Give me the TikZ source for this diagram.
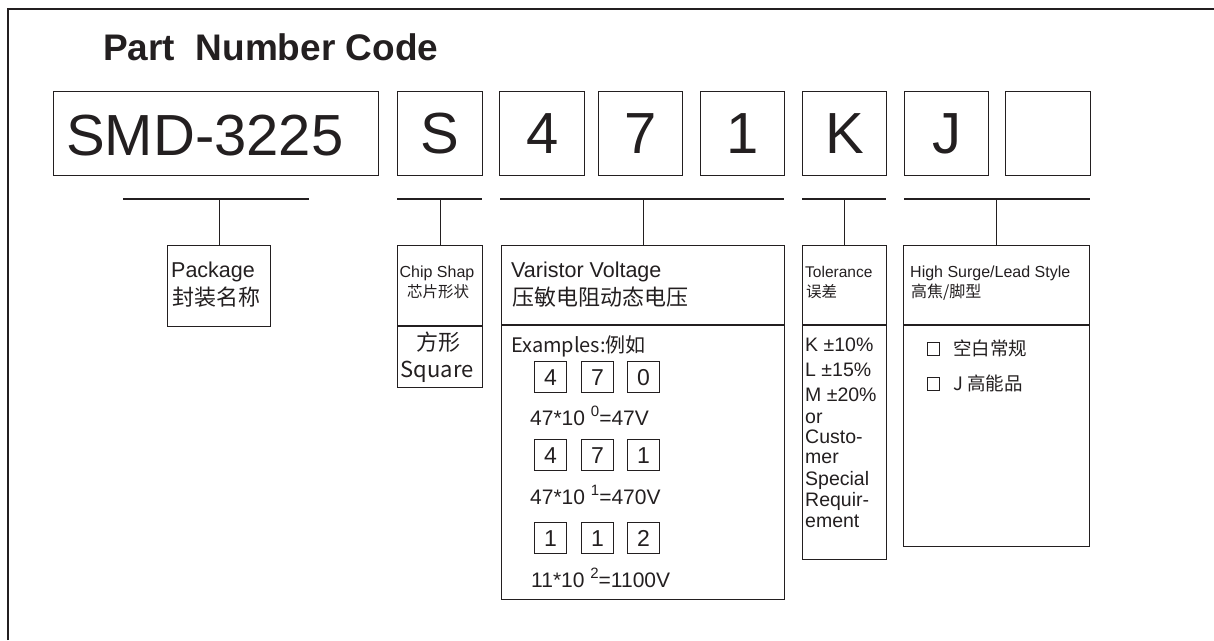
\documentclass[tikz,border=0pt]{standalone}
\usepackage{fontspec}
\setmainfont{Liberation Sans}
\newfontfamily\cjk{Noto Sans CJK SC}
\definecolor{ink}{HTML}{231F20}
\newcommand{\fs}[1]{\fontsize{#1}{#1}\selectfont}
\newcommand{\supx}[1]{\raisebox{9pt}{\fs{15}#1}}
\begin{document}
\begin{tikzpicture}[x=1pt,y=-1pt,
  box/.style={draw=ink, line width=1.3pt, inner sep=0pt, anchor=north west, text=ink},
  bigbox/.style={box, minimum width=85pt, minimum height=84pt, font=\fs{58}},
  sbox/.style={box, line width=1.2pt, minimum width=32pt, minimum height=31pt, font=\fs{23}},
  chk/.style={box, line width=1pt, minimum width=12pt, minimum height=13pt},
  txt/.style={inner sep=0pt, anchor=base west, text=ink},
  ctxt/.style={txt, anchor=base},
  conn/.style={draw=ink, line width=1.2pt}]
\useasboundingbox (0,0) rectangle (1214,640);
% frame
\draw[ink, line width=1.4pt] (8,640) -- (8,9) -- (1214,9);
% title
\node[txt, font=\fs{37}\bfseries] (title) at (103,60) {Part~ Number Code};
% code boxes
\node[box, minimum width=325pt, minimum height=84pt] (smd) at (53,91) {};
\node[txt, font=\fs{58}] (smdt) at (66,155) {SMD-3225};
\node[bigbox] (cS) at (397,91) {S};
\node[bigbox] (c4) at (499,91) {4};
\node[bigbox, minimum width=84pt] (c7) at (598,91) {7};
\node[bigbox, minimum width=84pt] (c1) at (700,91) {1};
\node[bigbox, minimum width=84pt] (cK) at (802,91) {K};
\node[bigbox, minimum width=84pt] (cJ) at (904,91) {J};
\node[bigbox] (cE) at (1005,91) {};
% description boxes
\node[box, minimum width=103pt, minimum height=81pt] (pkg) at (167,245) {};
\node[box, minimum width=85pt, minimum height=142pt] (chip) at (397,245) {};
\node[box, minimum width=283pt, minimum height=354pt] (var) at (501,245) {};
\node[box, minimum width=84pt, minimum height=314pt] (tol) at (802,245) {};
\node[box, minimum width=186pt, minimum height=301pt] (hs) at (903,245) {};
\draw[conn] ([yshift=-81pt]chip.north west) -- ([yshift=-81pt]chip.north east);
\draw[conn] ([yshift=-80pt]var.north west) -- ([yshift=-80pt]var.north east);
\draw[conn] ([yshift=-80pt]tol.north west) -- ([yshift=-80pt]tol.north east);
\draw[conn] ([yshift=-80pt]hs.north west) -- ([yshift=-80pt]hs.north east);
% brackets
\coordinate (b1l) at (123,199); \coordinate (b1r) at (309,199);
\coordinate (b2l) at (397,199); \coordinate (b2r) at (482,199);
\coordinate (b3l) at (500,199); \coordinate (b3r) at (784,199);
\coordinate (b4l) at (802,199); \coordinate (b4r) at (886,199);
\coordinate (b5l) at (904,199); \coordinate (b5r) at (1090,199);
\draw[conn] (b1l) -- (b1r);
\draw[conn] (b2l) -- (b2r);
\draw[conn] (b3l) -- (b3r);
\draw[conn] (b4l) -- (b4r);
\draw[conn] (b5l) -- (b5r);
\draw[conn] (pkg.north) -- (pkg.north |- b1l);
\draw[conn] (chip.north) -- (chip.north |- b2l);
\draw[conn] (var.north) -- (var.north |- b3l);
\draw[conn] (tol.north) -- (tol.north |- b4l);
\draw[conn] (hs.north) -- (hs.north |- b5l);
% package
\node[txt, font=\fs{21.5}] (pkg1) at (171,277) {Package};
\node[txt, font=\cjk\fs{22}] (pkg2) at (172,305) {封装名称};
% chip shape
\node[ctxt, font=\fs{16}] (chip1) at (437,277) {Chip Shap};
\node[ctxt, font=\cjk\fs{15.5}] (chip2) at (438,297) {芯片形状};
\node[ctxt, font=\cjk\fs{22}] (chip3) at (438,350) {方形};
\node[ctxt, font=\cjk\fs{22}] (chip4) at (437,377) {Square};
% varistor voltage
\node[txt, font=\fs{21.5}] (var1) at (511,277) {Varistor Voltage};
\node[txt, font=\cjk\fs{22}] (var2) at (512,305) {压敏电阻动态电压};
\node[txt, font=\cjk\fs{20}] (var3) at (511,352) {Examples:例如};
\node[sbox] (e1a) at (534,361) {4};
\node[sbox] (e1b) at (581,361) {7};
\node[sbox] (e1c) at (627,361) {0};
\node[txt, font=\fs{21}] (eq1) at (530,425) {47*10 \supx{0}=47V};
\node[sbox] (e2a) at (534,439) {4};
\node[sbox] (e2b) at (581,439) {7};
\node[sbox] (e2c) at (627,439) {1};
\node[txt, font=\fs{21}] (eq2) at (530,504) {47*10 \supx{1}=470V};
\node[sbox] (e3a) at (534,522) {1};
\node[sbox] (e3b) at (581,522) {1};
\node[sbox] (e3c) at (627,522) {2};
\node[txt, font=\fs{21}] (eq3) at (531,587) {11*10 \supx{2}=1100V};
% tolerance
\node[txt, font=\fs{15.5}] (tol1) at (805,277) {Tolerance};
\node[txt, font=\cjk\fs{15.5}] (tol2) at (806,297) {误差};
\node[txt, font=\fs{19.5}] (tk) at (805,351) {K ±10\%};
\node[txt, font=\fs{19.5}] (tl) at (805,376) {L ±15\%};
\node[txt, font=\fs{19.5}] (tm) at (805,401) {M ±20\%};
\node[txt, font=\fs{19.5}] (to) at (805,423) {or};
\node[txt, font=\fs{19.5}] (tc1) at (805,443) {Custo-};
\node[txt, font=\fs{19.5}] (tc2) at (805,463) {mer};
\node[txt, font=\fs{19.5}] (tc3) at (805,485) {Special};
\node[txt, font=\fs{19.5}] (tc4) at (805,506) {Requir-};
\node[txt, font=\fs{19.5}] (tc5) at (805,527) {ement};
% high surge
\node[txt, font=\fs{16}] (hs1) at (910,277) {High Surge/Lead Style};
\node[txt, font=\cjk\fs{16}] (hs2) at (911,297) {高焦/脚型};
\node[chk] (k1) at (927,342) {};
\node[chk] (k2) at (927,377) {};
\node[txt, font=\cjk\fs{18.5}] (hs3) at (953,355) {空白常规};
\node[txt, font=\cjk\fs{18.5}] (hs4) at (953,390) {J 高能品};
\end{tikzpicture}
\end{document}
